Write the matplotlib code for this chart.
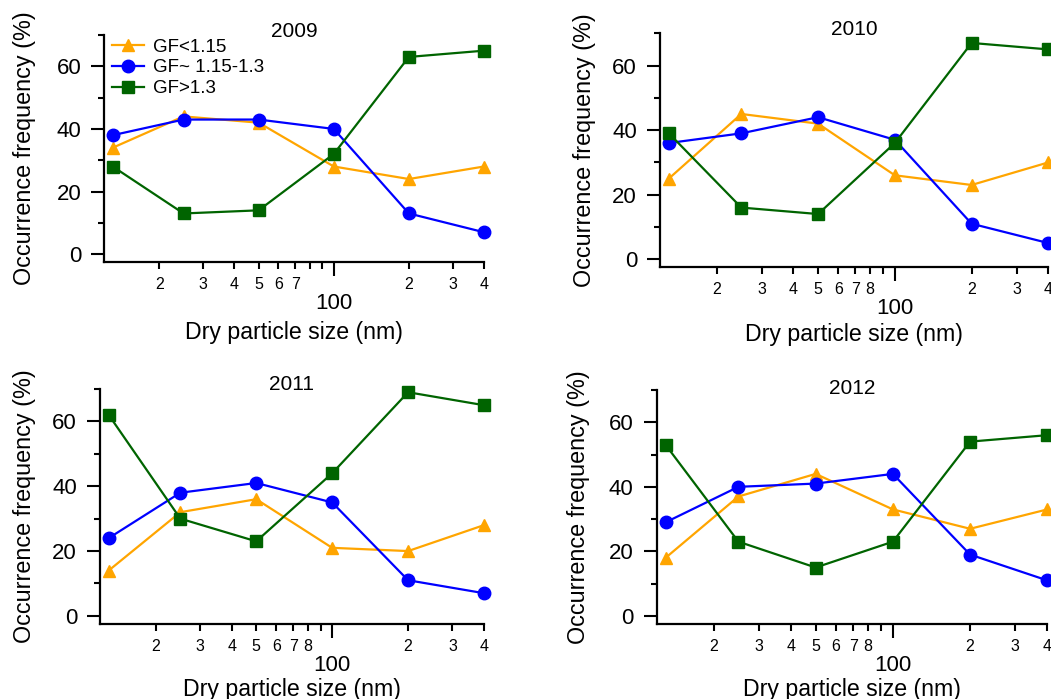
import matplotlib
matplotlib.use("Agg")
import matplotlib.pyplot as plt
from matplotlib.ticker import FixedLocator, FuncFormatter, NullFormatter

plt.rcParams['font.family'] = ['Liberation Sans', 'DejaVu Sans']

# dry sizes (nm)
sizes = [13, 25, 50, 100, 200, 400]
years = ["2009", "2010", "2011", "2012"]
labels = ["GF<1.15", "GF~ 1.15-1.3", "GF>1.3"]

low_gf = {
    "2009": [34, 44, 42, 28, 24, 28],
    "2010": [25, 45, 42, 26, 23, 30],
    "2011": [14, 32, 36, 21, 20, 28],
    "2012": [18, 37, 44, 33, 27, 33],
}
mid_gf = {
    "2009": [38, 43, 43, 40, 13, 7],
    "2010": [36, 39, 44, 37, 11, 5],
    "2011": [24, 38, 41, 35, 11, 7],
    "2012": [29, 40, 41, 44, 19, 11],
}
high_gf = {
    "2009": [28, 13, 14, 32, 63, 65],
    "2010": [39, 16, 14, 36, 67, 65],
    "2011": [62, 30, 23, 44, 69, 65],
    "2012": [53, 23, 15, 23, 54, 56],
}

colors = ["#FFA500", "#0000FF", "#006400"]
markers = ["^", "o", "s"]
msizes = [9, 9, 8]

# panel boxes (left, bottom, width, height) in figure fraction
boxes = {
    "2009": [0.0990, 0.6252, 0.3615, 0.3247],
    "2010": [0.6280, 0.6176, 0.3695, 0.3348],
    "2011": [0.0951, 0.1073, 0.3654, 0.3362],
    "2012": [0.6248, 0.1073, 0.3717, 0.3348],
}
ylab_x = {"2009": -0.179, "2010": -0.166, "2011": -0.166, "2012": -0.170}
xlab_y = {"2009": -0.262, "2010": -0.236, "2011": -0.229, "2012": -0.229}
title_y = {"2009": 1.015, "2010": 1.017, "2011": 1.021, "2012": 1.006}

minor_x = [20, 30, 40, 50, 60, 70, 80, 90, 200, 300, 400]

fig = plt.figure(figsize=(10.51, 6.99), dpi=100)

for yr in years:
    ax = fig.add_axes(boxes[yr])
    series = [low_gf[yr], mid_gf[yr], high_gf[yr]]
    for vals, c, m, ms, lab in zip(series, colors, markers, msizes, labels):
        ax.plot(sizes, vals, color=c, marker=m, markersize=ms, lw=1.6,
                label=lab, clip_on=False)

    ax.set_xscale('log')
    ax.set_xlim(12, 400)
    ax.set_ylim(-2.5, 70)

    ax.xaxis.set_major_locator(FixedLocator([100]))
    ax.xaxis.set_minor_locator(FixedLocator(minor_x))
    ax.xaxis.set_major_formatter(FuncFormatter(lambda v, p: "100"))
    top_lab = 70 if yr == "2009" else 80

    def fmt(v, p, top_lab=top_lab):
        if 20 <= v <= top_lab or v >= 200:
            return str(int(round(v / (10 if v < 100 else 100))))
        return ""
    ax.xaxis.set_minor_formatter(FuncFormatter(fmt))

    ax.yaxis.set_major_locator(FixedLocator([0, 20, 40, 60]))
    ax.yaxis.set_minor_locator(FixedLocator([10, 30, 50, 70]))
    ax.yaxis.set_minor_formatter(NullFormatter())

    ax.tick_params(axis='x', which='major', direction='out', length=10,
                   width=1.5, pad=12, labelsize=16)
    ax.tick_params(axis='x', which='minor', direction='out', length=5,
                   width=1.5, pad=5.5, labelsize=11.5)
    ax.tick_params(axis='y', which='major', direction='out', length=9.5,
                   width=1.5, pad=7, labelsize=16)
    ax.tick_params(axis='y', which='minor', direction='out', length=4.5,
                   width=1.5)

    for s in ['top', 'right']:
        ax.spines[s].set_visible(False)
    for s in ['left', 'bottom']:
        ax.spines[s].set_linewidth(1.6)

    ax.set_ylabel("Occurrence frequency (%)", fontsize=16.8)
    ax.set_xlabel("Dry particle size (nm)", fontsize=16.7, va='top')
    ax.yaxis.set_label_coords(ylab_x[yr], 0.5)
    ax.xaxis.set_label_coords(0.5, xlab_y[yr])

    ax.text(0.5, title_y[yr], yr, transform=ax.transAxes, ha='center',
            va='center', fontsize=15)

    if yr == "2009":
        ax.legend(loc='upper left', bbox_to_anchor=(0.02, 0.985),
                  frameon=False, fontsize=13.5, handlelength=1.75,
                  handletextpad=0.45, labelspacing=0.2, borderpad=0,
                  borderaxespad=0)

fig.savefig("out.png", dpi=100)
